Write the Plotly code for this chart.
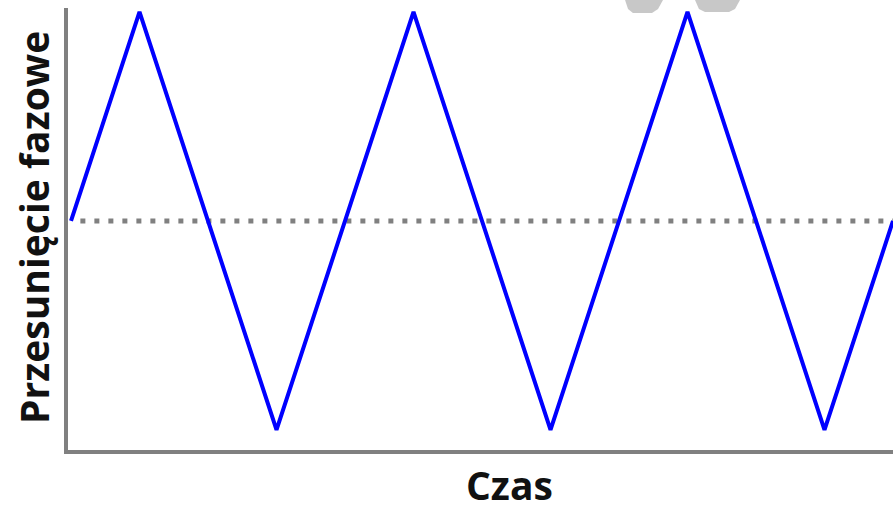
"""Triangle-wave phase shift over time."""

import plotly.graph_objects as go

# data
x_time = [0, 0.25, 0.75, 1.25, 1.75, 2.25, 2.75, 3.0]
y_phase = [0, 1, -1, 1, -1, 1, -1, 0]
mid_level = 0

_BLUE = "#0000FF"
_GRAY = "#808080"
_WM = "#C8C8C8"

W, H = 893, 506
L, R, T, B = 68, 0, 8, 56
pw, ph = W - L - R, H - T - B


def _px(x, y):
    # pixel position -> paper coords
    return (x - L) / pw, (H - B - y) / ph


def _blob(pts):
    coords = [_px(x, y) for x, y in pts]
    d = "M " + " L ".join(f"{a:.4f},{b:.4f}" for a, b in coords) + " Z"
    return dict(type="path", xref="paper", yref="paper", path=d,
                fillcolor=_WM, line_width=0, layer="below")


fig = go.Figure()

fig.add_trace(go.Scatter(
    x=x_time, y=y_phase,
    mode="lines",
    line=dict(color=_BLUE, width=4),
    showlegend=False,
    cliponaxis=False,
))

shapes = [
    dict(type="line", xref="paper", yref="y",
         x0=0.015, x1=1, y0=mid_level, y1=mid_level,
         line=dict(color=_GRAY, width=5, dash="5px,9px"),
         layer="below"),
    _blob([(625, 0), (663, 0), (658, 9), (652, 13), (633, 13), (628, 9)]),
    _blob([(695, 0), (740, 0), (735, 9), (729, 12), (705, 12), (699, 9)]),
]

ax_x, ax_y = _px(509, 484)
ay_x, ay_y = _px(33, 228)
font = dict(family="Open Sans", size=39, color="#111111")
annotations = [
    dict(text="<b>Czas</b>", x=ax_x, y=ax_y, xref="paper", yref="paper",
         showarrow=False, font=font, xanchor="center", yanchor="middle",
         height=42, valign="middle"),
    dict(text="<b>Przesunięcie fazowe</b>", x=ay_x, y=ay_y,
         xref="paper", yref="paper", textangle=-90,
         showarrow=False, font=font, xanchor="center", yanchor="middle"),
]

fig.update_layout(
    width=W, height=H,
    margin=dict(l=L, r=R, t=T, b=B),
    paper_bgcolor="white",
    plot_bgcolor="white",
    shapes=shapes,
    annotations=annotations,
    xaxis=dict(range=[-0.011, 3.0], showgrid=False, zeroline=False,
               showticklabels=False, ticks="", showline=True,
               linecolor=_GRAY, linewidth=4),
    yaxis=dict(range=[-1.096, 1.019], showgrid=False, zeroline=False,
               showticklabels=False, ticks="", showline=True,
               linecolor=_GRAY, linewidth=4),
)

fig.write_html(
    "out.html",
    config={"displayModeBar": False},
    post_script="document.body.style.margin='0';",
)
